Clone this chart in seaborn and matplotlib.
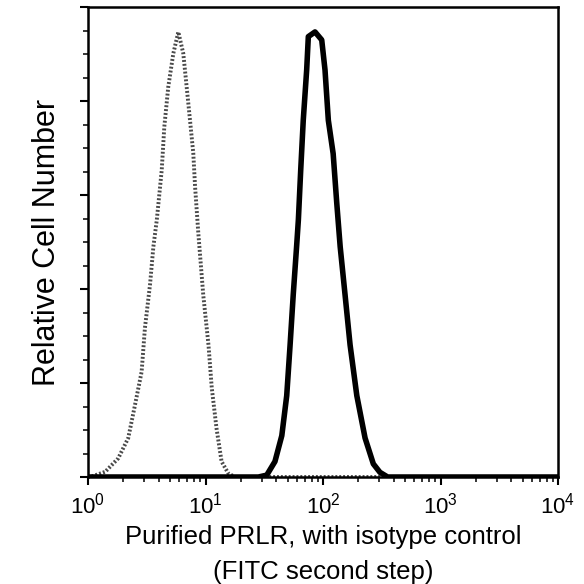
import numpy as np
import pandas as pd
import matplotlib
matplotlib.use("Agg")
import matplotlib.pyplot as plt
import seaborn as sns
from matplotlib.ticker import LogLocator, FixedLocator, MultipleLocator, NullFormatter

# Isotype control (grey dotted) - fluorescence intensity and relative count
iso_x = [1.0, 1.07, 1.40, 1.81, 2.20, 2.51, 2.86, 3.05, 3.37, 3.60, 3.85, 4.24, 4.46,
         4.82, 5.32, 5.87, 6.47, 7.14, 7.87, 8.15, 8.69, 9.57, 10.6, 11.3, 12.4,
         13.7, 15.6, 17.8, 10000]
iso_y = [0, 0.1, 1.1, 4.0, 8.3, 15.3, 22.4, 31.7, 40.9, 49.0, 54.7, 65.3, 74.5,
         83.0, 90.1, 94.7, 90.1, 79.5, 68.9, 61.8, 51.8, 38.7, 28.1, 19.0, 10.4,
         3.3, 0.8, 0, 0]

# Purified PRLR (black thick)
prlr_x = [1.0, 28.2, 33.2, 39.0, 44.6, 49.1, 52.4, 55.8, 59.7, 61.7, 64.6, 67.9,
          72.6, 75.0, 85.5, 97.5, 104, 111, 122, 131, 140, 154, 170, 194, 228,
          268, 305, 355, 10000]
prlr_y = [0, 0, 0.4, 3.3, 8.8, 17.3, 27.9, 38.8, 49.3, 54.7, 65.3, 75.9,
          86.6, 93.7, 94.7, 93.0, 86.6, 75.9, 68.8, 58.2, 49.0, 38.8, 28.1, 17.3, 8.3,
          2.8, 1.0, 0, 0]

x_ticks = [1, 10, 100, 1000, 10000]
x_ticklabels = ["$10^0$", "$10^1$", "$10^2$", "$10^3$", "$10^4$"]
x_label = "Purified PRLR, with isotype control\n(FITC second step)"
y_label = "Relative Cell Number"

sns.set_style("ticks")
plt.rcParams["font.family"] = ["Liberation Sans", "DejaVu Sans"]
plt.rcParams["mathtext.fontset"] = "custom"
plt.rcParams["mathtext.rm"] = "Liberation Sans"
plt.rcParams["mathtext.it"] = "Liberation Sans"

fig = plt.figure(figsize=(5.84, 5.84), dpi=100)
ax = fig.add_axes([0.1507, 0.1832, 0.8048, 0.8048])

iso = pd.DataFrame({"x": iso_x, "y": iso_y})
prlr = pd.DataFrame({"x": prlr_x, "y": prlr_y})

sns.lineplot(data=iso, x="x", y="y", ax=ax, color="#4a4a4a", linewidth=2.8,
             linestyle=(0, (0.5, 0.5)), sort=False, estimator=None)
sns.lineplot(data=prlr, x="x", y="y", ax=ax, color="#000000", linewidth=4.0,
             sort=False, estimator=None, solid_capstyle="round")

ax.set_xscale("log")
ax.set_xlim(1, 10000)
ax.set_ylim(0, 100)
ax.xaxis.set_major_locator(FixedLocator(x_ticks))
ax.set_xticklabels(x_ticklabels)
ax.xaxis.set_minor_locator(LogLocator(base=10, subs=np.arange(2, 10)))
ax.xaxis.set_minor_formatter(NullFormatter())
ax.yaxis.set_major_locator(MultipleLocator(20))
ax.yaxis.set_minor_locator(MultipleLocator(5))
ax.yaxis.set_major_formatter(NullFormatter())

for s in ax.spines.values():
    s.set_visible(True)
    s.set_linewidth(1.8)
    s.set_color("#000000")

ax.tick_params(axis="both", which="major", direction="out", length=6, width=1.5,
               labelsize=16, colors="#000000", pad=5)
ax.tick_params(axis="both", which="minor", direction="out", length=3.5, width=1.1,
               colors="#000000")
ax.tick_params(top=False, right=False, which="both")

ax.set_xlabel(x_label, fontsize=18.5, linespacing=1.55, labelpad=5, color="#000000")
ax.set_ylabel(y_label, fontsize=22, labelpad=8, color="#000000")

fig.savefig("out.png", dpi=100)
